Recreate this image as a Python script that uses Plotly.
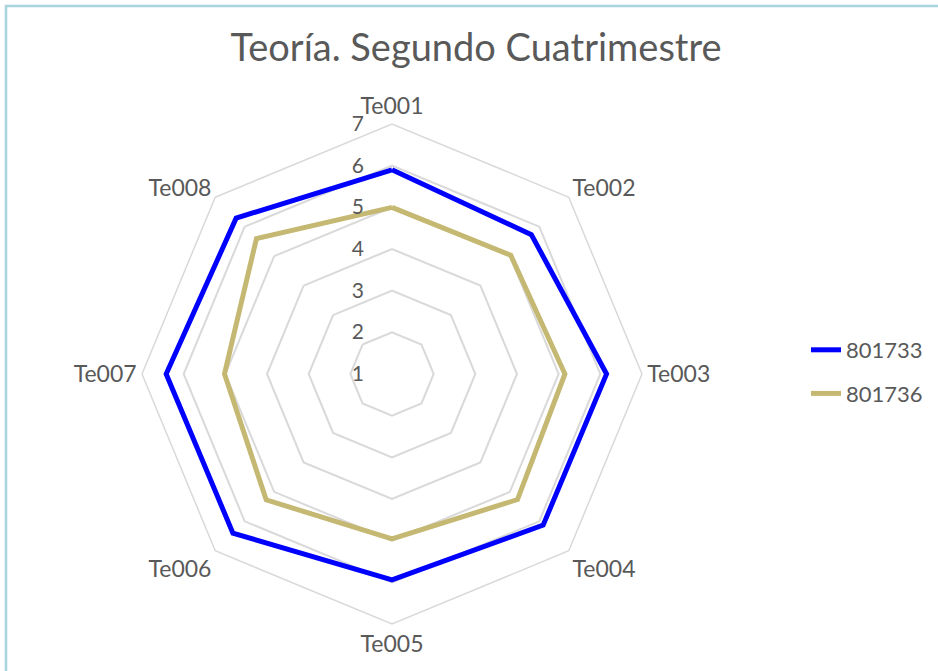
import plotly.graph_objects as go

# Datos
categorias = ["Te001", "Te002", "Te003", "Te004", "Te005", "Te006", "Te007", "Te008"]
serie_801733 = [5.9, 5.73, 6.15, 6.13, 5.94, 6.4, 6.42, 6.29]
serie_801736 = [5.0, 5.03, 5.15, 5.26, 4.96, 5.27, 5.02, 5.6]
nombres = ["801733", "801736"]
ticks_radial = [1, 2, 3, 4, 5, 6, 7]

gris_texto = "#595959"
fuente = "Lato"

# relleno invisible para que las etiquetas queden a la izquierda del eje
relleno = "<span style='color:rgba(0,0,0,0)'>00</span>"
ticks_texto = [f"{v}{relleno}" for v in ticks_radial]

fig = go.Figure()

# cerrar el poligono repitiendo el primer punto
fig.add_trace(go.Scatterpolar(
    r=serie_801733 + serie_801733[:1],
    theta=categorias + categorias[:1],
    mode="lines",
    name=nombres[0],
    legendgroup="a",
    line=dict(color="#0000ff", width=5),
))
fig.add_trace(go.Scatterpolar(
    r=serie_801736 + serie_801736[:1],
    theta=categorias + categorias[:1],
    mode="lines",
    name=nombres[1],
    legendgroup="b",
    line=dict(color="#c4b872", width=5),
))

W, H = 938, 671
cx, cy, rad = 392, 374, 250

fig.update_layout(
    width=W,
    height=H,
    margin=dict(l=0, r=0, t=0, b=0),
    paper_bgcolor="white",
    font=dict(family=fuente, color=gris_texto, size=22),
    title=dict(
        text="Teoría. Segundo Cuatrimestre",
        x=476 / W, xanchor="center",
        y=1 - 48 / H, yanchor="middle",
        font=dict(size=38, color=gris_texto, family=fuente),
    ),
    polar=dict(
        bgcolor="white",
        gridshape="linear",
        domain=dict(
            x=[(cx - rad) / W, (cx + rad) / W],
            y=[(H - cy - rad) / H, (H - cy + rad) / H],
        ),
        radialaxis=dict(
            range=[1, 7],
            tickvals=ticks_radial,
            ticktext=ticks_texto,
            angle=90,
            side="counterclockwise",
            tickangle=90,
            showline=False,
            ticks="",
            gridcolor="#d9d9d9",
            gridwidth=1.5,
            tickfont=dict(size=21, color=gris_texto),
        ),
        angularaxis=dict(
            direction="clockwise",
            rotation=90,
            showgrid=False,
            showline=True,
            linecolor="#d9d9d9",
            linewidth=1.5,
            ticks="",
            tickfont=dict(size=23, color=gris_texto),
        ),
    ),
    legend=dict(
        x=806 / W, xanchor="left",
        y=1 - 372 / H, yanchor="middle",
        font=dict(size=22, color=gris_texto),
        tracegroupgap=12,
        bgcolor="rgba(0,0,0,0)",
    ),
    shapes=[dict(
        type="rect", xref="paper", yref="paper",
        x0=6 / W, x1=1.01, y0=-0.01, y1=1 - 6 / H,
        line=dict(color="#a8d4e0", width=2.5),
        fillcolor="rgba(0,0,0,0)",
        layer="below",
    )],
)

fig.write_html(
    "out.html",
    config={"displayModeBar": False},
    post_script="document.body.style.margin='0';document.body.style.overflow='hidden';",
)
